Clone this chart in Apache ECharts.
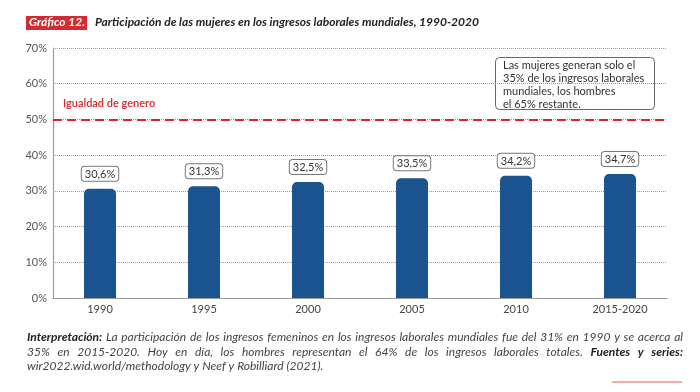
<!DOCTYPE html>
<html><head><meta charset="utf-8">
<script src="https://cdn.jsdelivr.net/npm/echarts@6/dist/echarts.min.js"></script>
<style>html,body{margin:0;padding:0;background:#fff}#c{width:700px;height:392px}</style>
</head><body><div id="c"></div>
<script>
const categories = ['1990','1995','2000','2005','2010','2015-2020'];
const shares = [30.6, 31.3, 32.5, 33.5, 34.2, 34.7];
const yTicks = [0,10,20,30,40,50,60,70];
const equalityLevel = 50;

const FONT = 'Lato';
const canvas = document.createElement('canvas');
const ctx = canvas.getContext('2d');
function measure(t, bold){ ctx.font = 'italic ' + (bold?'bold ':'') + '12px ' + FONT; return ctx.measureText(t).width; }
function lineEls(segs, x0, x1, y, justify){
  const words = [];
  segs.forEach(s => s.t.split(' ').filter(w=>w.length).forEach(w => words.push({w, b:s.b})));
  const widths = words.map(o => measure(o.w, o.b));
  const sum = widths.reduce((a,b)=>a+b,0);
  const gap = justify ? (x1-x0-sum)/(words.length-1) : measure(' ', false);
  let x = x0; const els = [];
  words.forEach((o,i) => {
    els.push({type:'text', left:x, top:y, style:{text:o.w, fill:o.b?'#222':'#444', font:'italic '+(o.b?'bold ':'')+'12px '+FONT}});
    x += widths[i] + gap;
  });
  return els;
}
const footer = [].concat(
  lineEls([{t:'Interpretación:',b:true},{t:'La participación de los ingresos femeninos en los ingresos laborales mundiales fue del 31% en 1990 y se acerca al',b:false}], 27, 683, 331, true),
  lineEls([{t:'35% en 2015-2020. Hoy en día, los hombres representan el 64% de los ingresos laborales totales.',b:false},{t:'Fuentes y series:',b:true}], 27, 683, 346, true),
  lineEls([{t:'wir2022.wid.world/methodology y Neef y Robilliard (2021).',b:false}], 27, 683, 360, false)
);

const chart = echarts.init(document.getElementById('c'));
chart.setOption({
  animation:false,
  textStyle:{fontFamily:FONT},
  grid:[
    {left:53, right:33, top:48, bottom:94},
    {left:48, right:28, top:48, bottom:94}
  ],
  xAxis:[
    {gridIndex:0, type:'category', data:categories, axisLine:{lineStyle:{color:'#999',width:1.2}}, axisTick:{show:false}, axisLabel:{show:false}},
    {gridIndex:1, type:'category', data:categories, axisLine:{show:false}, axisTick:{show:false},
     axisLabel:{color:'#444', fontSize:11, margin:6, fontFamily:FONT}}
  ],
  yAxis:[
    {gridIndex:0, type:'value', min:0, max:70, interval:10,
     axisLine:{show:true, lineStyle:{color:'#999',width:1.2}}, axisTick:{show:false},
     splitLine:{lineStyle:{color:'#999', type:[1,1], width:1}},
     axisLabel:{color:'#555', fontSize:11, margin:6, formatter:v=>v+'%', fontFamily:FONT}},
    {gridIndex:1, type:'value', min:0, max:70, interval:10, show:false}
  ],
  series:[
    {type:'line', xAxisIndex:0, yAxisIndex:0, data:[], silent:true,
     markLine:{symbol:'none', silent:true, label:{show:false},
       lineStyle:{color:'#d7262e', type:[9,5], width:2}, data:[{yAxis:equalityLevel}]}},
    {type:'bar', xAxisIndex:1, yAxisIndex:1, data:shares, barWidth:32,
     itemStyle:{color:'#1b548e', borderRadius:[5,5,0,0]},
     label:{show:true, position:'top', distance:8, formatter:p=>String(p.value).replace('.',',')+'%',
       color:'#333', fontSize:11, fontFamily:FONT, backgroundColor:'#fff', borderColor:'#777', borderWidth:1,
       borderRadius:3, padding:[2,3,1,3]}}
  ],
  graphic:[
    {type:'rect', left:26, top:16, shape:{width:61, height:14}, style:{fill:'#d42b30'}},
    {type:'text', left:29, top:16, style:{text:'Gráfico 12.', fill:'#fff', font:'italic bold 12px '+FONT}},
    {type:'text', left:95, top:16, style:{text:'Participación de las mujeres en los ingresos laborales mundiales, 1990-2020', fill:'#222', font:'italic bold 12px '+FONT}},
    {type:'text', left:63, top:98, style:{text:'Igualdad de genero', fill:'#d7262e', font:'600 11px '+FONT}},
    {type:'rect', left:495, top:57, shape:{width:159, height:52, r:4}, style:{fill:'#fff', stroke:'#666', lineWidth:1}},
    {type:'text', left:503, top:59, style:{text:'Las mujeres generan solo el\n35% de los ingresos laborales\nmundiales, los hombres\nel 65% restante.', fill:'#333', font:'11px '+FONT, lineHeight:13}},
    {type:'rect', left:612, top:381, shape:{width:70, height:2}, style:{fill:'#f2aaaa'}}
  ].concat(footer)
});
</script></body></html>
